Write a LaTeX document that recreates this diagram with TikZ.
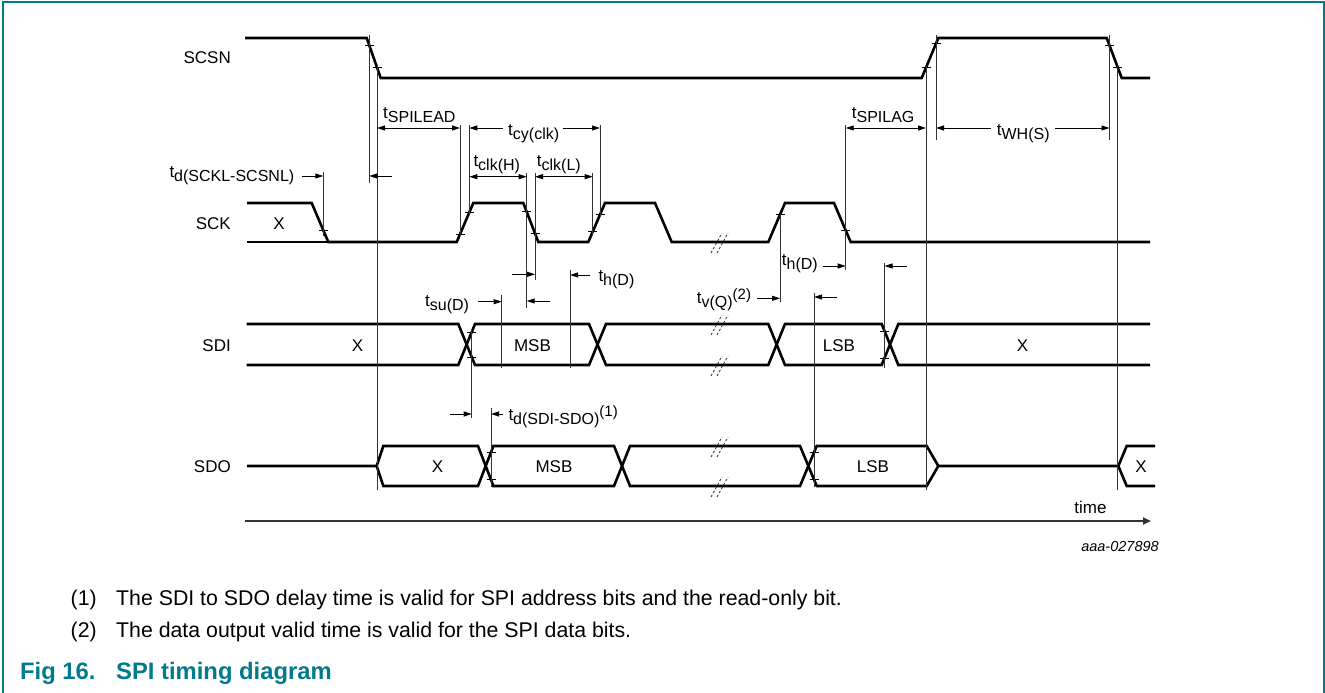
\documentclass[tikz,border=0pt]{standalone}
\usepackage{fontspec}
\setmainfont{Liberation Sans}
\usetikzlibrary{arrows.meta}
\definecolor{nxpteal}{RGB}{0,122,140}
\newcommand{\tsb}[1]{t\raisebox{-4pt}{\fontsize{16}{16}\selectfont #1}}
\newcommand{\tss}[2]{t\raisebox{-4pt}{\fontsize{16}{16}\selectfont #1}\raisebox{4pt}{\fontsize{15}{15}\selectfont #2}}
\begin{document}
\begin{tikzpicture}[x=1pt,y=-1pt,
  sig/.style={line width=2.6pt, line join=miter},
  vline/.style={line width=0.9pt, black!80},
  dim/.style={line width=0.9pt, -{Triangle[length=8pt,width=5pt]}},
  ddim/.style={line width=0.9pt, {Triangle[length=8pt,width=5pt]}-{Triangle[length=8pt,width=5pt]}},
  tickm/.style={line width=0.8pt},
  brk/.style={line width=0.9pt, dash pattern=on 2.5pt off 2pt, black!75},
  lbl/.style={font=\fontsize{17}{20}\selectfont, inner sep=0pt},
  note/.style={font=\fontsize{21.3}{25}\selectfont, inner sep=0pt, anchor=base west},
  figcap/.style={font=\fontsize{23.8}{28}\selectfont\bfseries, text=nxpteal, inner sep=0pt, anchor=base west}
]
\useasboundingbox (0,0) rectangle (1325,693);
% frame
\draw[nxpteal, line width=2pt] (3,693) -- (3,2.5) -- (1323.5,2.5) -- (1323.5,693);

% signal names
\node[lbl, anchor=east] (nscsn) at (231,58) {SCSN};
\node[lbl, anchor=east] (nsck) at (231,224) {SCK};
\node[lbl, anchor=east] (nsdi) at (231,345.5) {SDI};
\node[lbl, anchor=east] (nsdo) at (231,467) {SDO};

% SCSN
\draw[sig] (245,38) -- (366.7,38) -- (380.7,78) -- (921.7,78) -- (938.3,38) -- (1106.7,38) -- (1121.7,78) -- (1150,78);

% SCK
\draw[sig] (247,203) -- (311.7,203) -- (328.3,242) -- (456.7,242) -- (473.3,203) -- (523.3,203) -- (538.3,242) -- (588.3,242) -- (605,203) -- (655,203) -- (671.7,242) -- (768.3,242) -- (785,203) -- (834,203) -- (850.7,242) -- (1150,242);
\draw[sig] (247,242) -- (329,242);

% SDI
\draw[sig] (246.7,324) -- (458.3,324) -- (475,365) -- (589,365) -- (606,324) -- (768.3,324) -- (785,365) -- (881.7,365) -- (898.3,324) -- (1150,324);
\draw[sig] (246.7,365) -- (458.3,365) -- (475,324) -- (589,324) -- (606,365) -- (768.3,365) -- (785,324) -- (881.7,324) -- (898.3,365) -- (1150,365);

% SDO
\draw[sig] (247,466) -- (376.7,466) -- (383.3,446) -- (478,446) -- (493.4,486) -- (614,486) -- (630,446) -- (800,446) -- (816.7,486) -- (926.7,486) -- (938.3,466) -- (1118.3,466) -- (1126.7,446) -- (1155,446);
\draw[sig] (376.7,466) -- (383.3,486) -- (478,486) -- (493.4,446) -- (614,446) -- (630,486) -- (800,486) -- (816.7,446) -- (926.7,446) -- (938.3,466);
\draw[sig] (1118.3,466) -- (1126.7,486) -- (1155,486);

% data labels
\node[lbl] (sckx) at (279,224) {X};
\node[lbl] (sdix1) at (357.5,345.5) {X};
\node[lbl] (sdimsb) at (532.5,345.5) {MSB};
\node[lbl] (sdilsb) at (839,345.5) {LSB};
\node[lbl] (sdix2) at (1022.5,345.5) {X};
\node[lbl] (sdox1) at (437.5,467) {X};
\node[lbl] (sdomsb) at (554,467) {MSB};
\node[lbl] (sdolsb) at (873,467) {LSB};
\node[lbl] (sdox2) at (1141,467) {X};

% break marks
\foreach \yy in {242,324,365,446,486} {
  \draw[brk] (711,\yy+11) -- (722,\yy-9);
  \draw[brk] (717,\yy+11) -- (728,\yy-9);
}

% ticks
\foreach \tx/\ty in {369.3/45.4, 377/67.4, 926/67.6, 936/43.5, 1109.5/45.5, 1117.7/67.3,
  323.3/230.3, 460/234.2, 469.3/212.4, 526.7/211.8, 535/233.4, 592.7/231.7, 600/214.7, 780/214.7, 845.7/230.3,
  471.7/332, 471.7/357, 884.5/331, 884.5/358, 491/452.2, 491/479.8, 814/452.4, 814/479.6} {
  \draw[tickm] (\tx-4.5,\ty) -- (\tx+4.5,\ty);
}

% vertical reference lines
\foreach \vx/\ya/\yb in {323.3/172/236, 369.3/35/183, 377/66/490, 460/125/236, 469.3/125/214,
  526.7/173/308, 535/173/280, 592.7/173/236, 600/125/216, 845.7/125/270, 926/66/490,
  936/35/140, 1109.5/35/140, 1117.7/66/490, 471.7/330/418, 491/408/487, 501.7/295/368,
  570/270/368, 780/214/302, 814/293/487, 884.5/263/368} {
  \draw[vline] (\vx,\ya) -- (\vx,\yb);
}

% dimension arrows
\draw[dim] (302,176) -- (323.3,176);
\draw[dim] (392,176) -- (369.3,176);
\draw[ddim] (377,128) -- (460,128);
\draw[dim] (503,128) -- (469.3,128);
\draw[dim] (563,128) -- (600,128);
\draw[ddim] (469.3,176.7) -- (526.7,176.7);
\draw[ddim] (535,176.7) -- (592.7,176.7);
\draw[ddim] (845.7,128) -- (926,128);
\draw[dim] (991,128) -- (936,128);
\draw[dim] (1055,128) -- (1109.5,128);
\draw[dim] (511.7,274.3) -- (535,274.3);
\draw[dim] (550,301) -- (526.7,301);
\draw[dim] (478,301.7) -- (501.7,301.7);
\draw[dim] (590,275) -- (570,275);
\draw[dim] (450,414) -- (471.7,414);
\draw[dim] (503.3,414) -- (491,414);
\draw[dim] (757,298.3) -- (780,298.3);
\draw[dim] (836.7,297) -- (814,297);
\draw[dim] (823.3,266) -- (845.7,266);
\draw[dim] (906.7,266) -- (884.5,266);

% timing labels
\node[lbl, anchor=base west] (ltd) at (169.3,177) {\tsb{d(SCKL-SCSNL)}};
\node[lbl, anchor=base west] (llead) at (383,118) {\tsb{SPILEAD}};
\node[lbl, anchor=base west] (lcy) at (508,135) {\tsb{cy(clk)}};
\node[lbl, anchor=base west] (lch) at (473.3,166.7) {\tsb{clk(H)}};
\node[lbl, anchor=base west] (lcl) at (536.7,166.7) {\tsb{clk(L)}};
\node[lbl, anchor=base west] (llag) at (851.7,118.7) {\tsb{SPILAG}};
\node[lbl, anchor=base west] (lwh) at (996.7,135) {\tsb{WH(S)}};
\node[lbl, anchor=base west] (lsu) at (425,306) {\tsb{su(D)}};
\node[lbl, anchor=base west] (lh1) at (598.3,281.7) {\tsb{h(D)}};
\node[lbl, anchor=base west] (lh2) at (781.7,265) {\tsb{h(D)}};
\node[lbl, anchor=base west] (lsdo) at (508.3,420) {\tss{d(SDI-SDO)}{(1)}};
\node[lbl, anchor=base west] (lv) at (696.7,303) {\tss{v(Q)}{(2)}};

% time axis
\draw[line width=2.4pt, black!80, -{Triangle[length=8pt,width=7pt]}] (245,521) -- (1151,521);
\node[lbl] (ltime) at (1090.5,507) {time};
\node[font=\fontsize{14.5}{16}\selectfont\itshape, inner sep=0pt] (lid) at (1120,547) {aaa-027898};

% notes
\node[note] (n1) at (70.5,605) {(1)};
\node[note] (t1) at (116,605) {The SDI to SDO delay time is valid for SPI address bits and the read-only bit.};
\node[note] (n2) at (70.5,637) {(2)};
\node[note] (t2) at (116,637) {The data output valid time is valid for the SPI data bits.};
\node[figcap] (c1) at (20,679) {Fig 16.};
\node[figcap] (c2) at (116,679) {SPI timing diagram};
\end{tikzpicture}
\end{document}
